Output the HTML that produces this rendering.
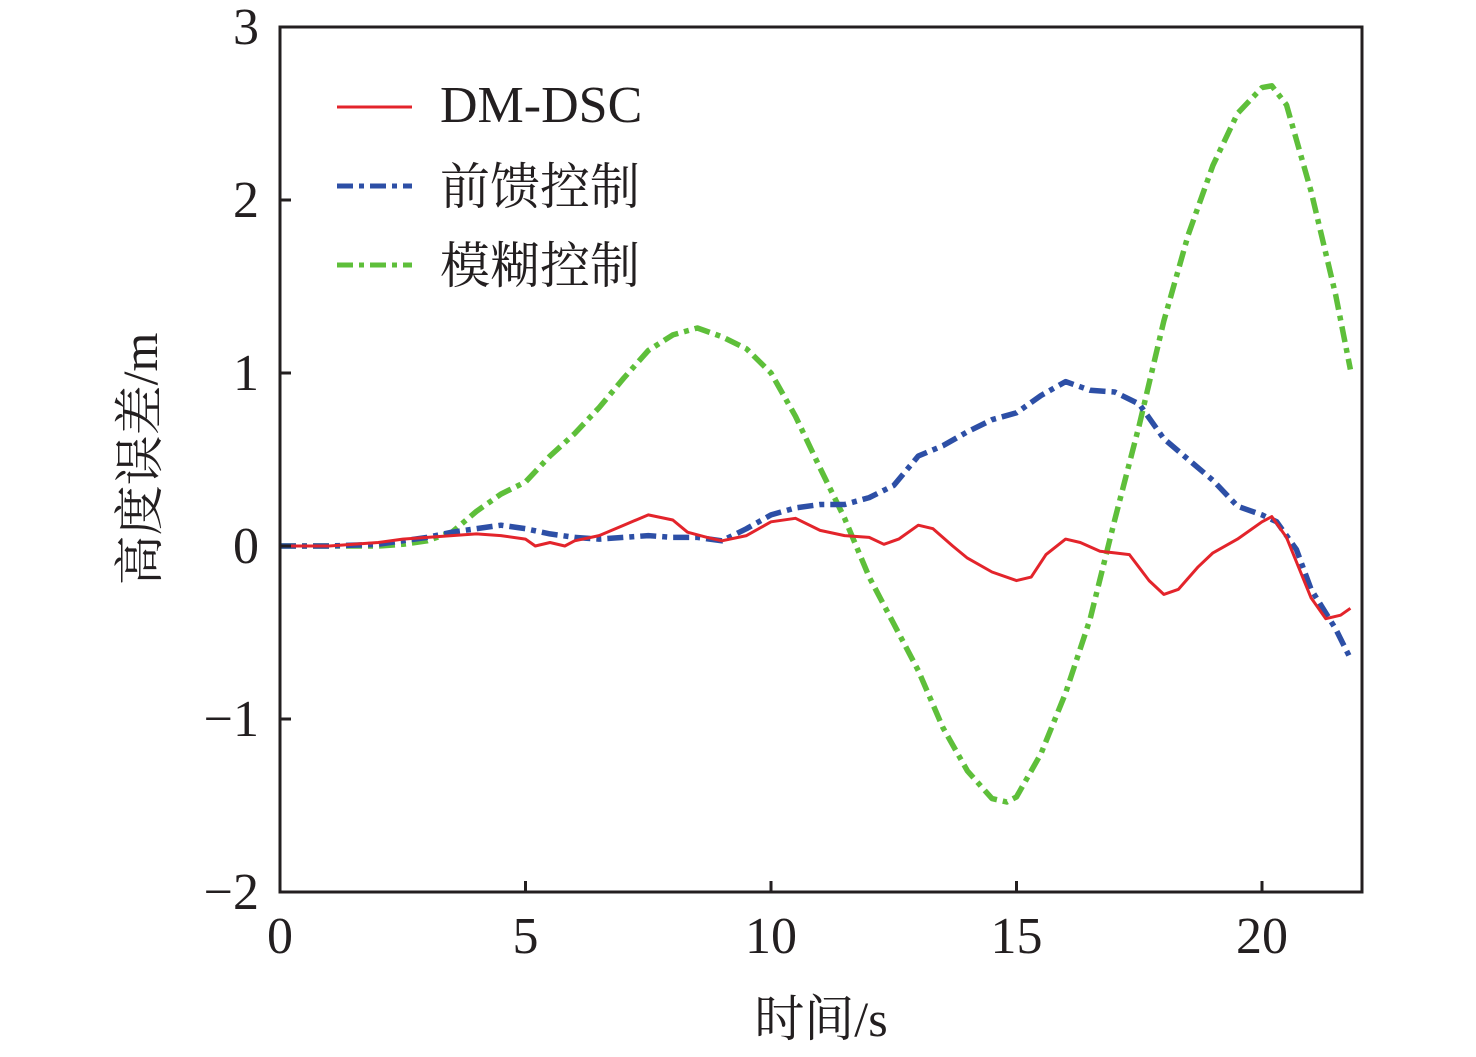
<!DOCTYPE html>
<html><head><meta charset="utf-8"><style>
html,body{margin:0;padding:0;background:#fff;}
svg text{font-family:"Liberation Serif","Noto Serif CJK SC",serif;fill:#231f20;}
</style></head><body>
<svg id="chart" width="1476" height="1052" xmlns="http://www.w3.org/2000/svg">
<g id="marks"></g>
<rect x="280" y="27" width="1082" height="865" fill="none" stroke="#231f20" stroke-width="3"/>
<g id="axes"></g>
<g>
<line x1="337" y1="107" x2="412" y2="107" stroke="#e3242b" stroke-width="3"/>
<text x="440" y="122" font-size="52">DM-DSC</text>
<line x1="337" y1="186" x2="412" y2="186" stroke="#2d4fa6" stroke-width="5" stroke-dasharray="16,6,5,6"/>
<text x="440" y="204" font-size="50">前馈控制</text>
<line x1="337" y1="265" x2="412" y2="265" stroke="#5ebf3a" stroke-width="5" stroke-dasharray="16,6,5,6"/>
<text x="440" y="283" font-size="50">模糊控制</text>
</g>
<text x="821" y="1036" font-size="50" text-anchor="middle">时间/s</text>
<text transform="translate(157,459) rotate(-90)" font-size="50" text-anchor="middle">高度误差/m</text>
</svg>
<script>
const xTicks=[0,5,10,15,20];
const yTicks=[-2,-1,0,1,2,3];
const yTickLabels=["\u22122","\u22121","0","1","2","3"];
const redT=[0,1,2,2.5,3,3.5,4,4.5,5,5.2,5.5,5.8,6,6.5,7,7.5,8,8.3,8.7,9,9.5,10,10.5,11,11.5,12,12.3,12.6,13,13.3,13.7,14,14.5,15,15.3,15.6,16,16.3,16.7,17,17.3,17.7,18,18.3,18.7,19,19.5,20,20.2,20.5,21,21.3,21.6,21.8];
const redV=[0,0,0.02,0.04,0.05,0.06,0.07,0.06,0.04,0,0.02,0,0.03,0.06,0.12,0.18,0.15,0.08,0.05,0.03,0.06,0.14,0.16,0.09,0.06,0.05,0.01,0.04,0.12,0.1,0,-0.07,-0.15,-0.2,-0.18,-0.05,0.04,0.02,-0.03,-0.04,-0.05,-0.2,-0.28,-0.25,-0.12,-0.04,0.04,0.14,0.17,0.05,-0.3,-0.42,-0.4,-0.36];
const blueT=[0,1,2,2.5,3,3.5,4,4.5,5,5.5,6,6.5,7,7.5,8,8.5,9,9.5,10,10.5,11,11.5,12,12.5,13,13.5,14,14.5,15,15.5,16,16.5,17,17.5,18,18.5,19,19.5,20,20.3,20.7,21,21.5,21.8];
const blueV=[0,0,0.01,0.03,0.05,0.08,0.1,0.12,0.1,0.07,0.05,0.04,0.05,0.06,0.05,0.05,0.03,0.1,0.18,0.22,0.24,0.24,0.28,0.35,0.52,0.58,0.66,0.73,0.77,0.87,0.95,0.9,0.89,0.82,0.62,0.5,0.38,0.23,0.18,0.14,-0.02,-0.25,-0.48,-0.65];
const greenT=[0,1,2,2.5,3,3.5,4,4.5,5,5.5,6,6.5,7,7.5,8,8.5,9,9.5,10,10.5,11,11.5,12,12.5,13,13.5,14,14.5,14.8,15,15.5,16,16.5,17,17.5,18,18.5,19,19.5,20,20.2,20.5,21,21.5,21.8];
const greenV=[0,0,0,0.01,0.03,0.08,0.2,0.3,0.37,0.52,0.65,0.8,0.97,1.13,1.22,1.26,1.21,1.14,1.0,0.75,0.45,0.16,-0.18,-0.45,-0.72,-1.05,-1.3,-1.46,-1.48,-1.45,-1.2,-0.85,-0.42,0.15,0.7,1.3,1.8,2.2,2.5,2.65,2.66,2.55,2.05,1.45,1.02];
const NS="http://www.w3.org/2000/svg";
const X=v=>280+v*(1262-280)/20;
const Y=v=>546-v*(546-27)/3;
const marks=document.getElementById('marks'), axes=document.getElementById('axes');
function poly(ts,vs,color,w,dash,name){
  const p=document.createElementNS(NS,'polyline');
  p.setAttribute('points',ts.map((t,i)=>X(t).toFixed(1)+','+Y(vs[i]).toFixed(1)).join(' '));
  p.setAttribute('fill','none');p.setAttribute('stroke',color);p.setAttribute('stroke-width',w);
  p.setAttribute('stroke-linejoin','round');
  if(dash)p.setAttribute('stroke-dasharray',dash);
  
  
  marks.appendChild(p);
}
poly(greenT,greenV,'#5ebf3a',5.5,'16,6,5,6','series-fuzzy-control');
poly(blueT,blueV,'#2d4fa6',5.5,'16,6,5,6','series-feedforward-control');
poly(redT,redV,'#e3242b',3,null,'series-dm-dsc');
xTicks.forEach(t=>{
  const l=document.createElementNS(NS,'line');
  l.setAttribute('x1',X(t));l.setAttribute('x2',X(t));l.setAttribute('y1',892);l.setAttribute('y2',881);
  l.setAttribute('stroke','#231f20');l.setAttribute('stroke-width',3);
  
  
  axes.appendChild(l);
  const tx=document.createElementNS(NS,'text');
  tx.setAttribute('x',X(t));tx.setAttribute('y',953);tx.setAttribute('font-size',52);tx.setAttribute('text-anchor','middle');
  tx.textContent=t;
  
  
  axes.appendChild(tx);
});
yTicks.forEach((v,i)=>{
  const l=document.createElementNS(NS,'line');
  l.setAttribute('x1',280);l.setAttribute('x2',291);l.setAttribute('y1',Y(v));l.setAttribute('y2',Y(v));
  l.setAttribute('stroke','#231f20');l.setAttribute('stroke-width',3);
  
  
  axes.appendChild(l);
  const tx=document.createElementNS(NS,'text');
  tx.setAttribute('x',259);tx.setAttribute('y',Y(v)+17);tx.setAttribute('font-size',52);tx.setAttribute('text-anchor','end');
  tx.textContent=yTickLabels[i];
  
  
  axes.appendChild(tx);
});
</script>
</body></html>
